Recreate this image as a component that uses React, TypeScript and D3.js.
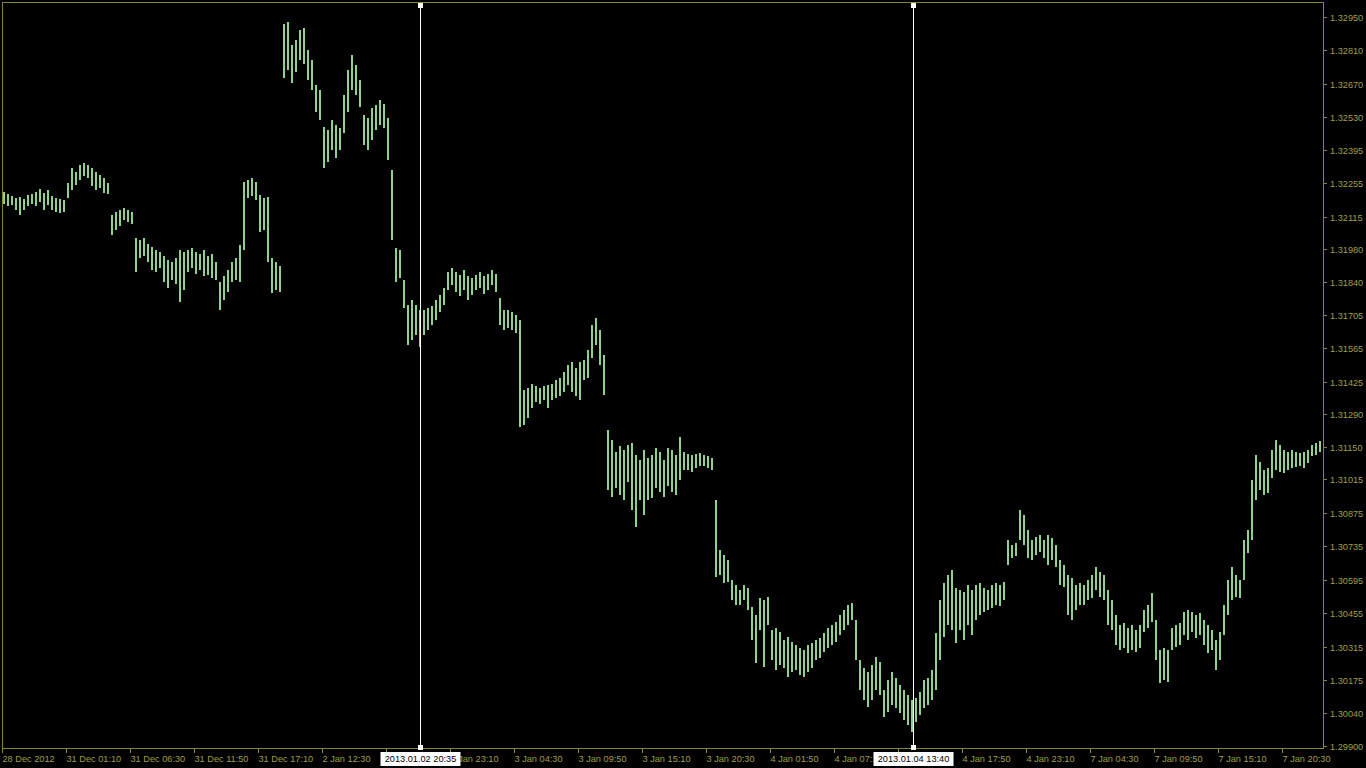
import React, { useEffect, useRef } from 'react';
import * as d3 from 'd3';

const WIDTH = 1366;
const HEIGHT = 768;
const FRAME = { left: 3, top: 3, right: 1324, bottom: 749 };

// each sample = 4 M5 bars (20 min), high / low
const dec28Highs = [1.32218, 1.32209, 1.32201, 1.32192, 1.32197, 1.32188, 1.32205, 1.32209, 1.32218, 1.32230, 1.32213, 1.32226, 1.32201, 1.32192, 1.32188, 1.32184, 1.32255, 1.32318, 1.32301, 1.32331, 1.32339, 1.32331, 1.32318, 1.32301, 1.32289, 1.32276, 1.32255, 1.32121, 1.32134, 1.32142, 1.32151, 1.32142, 1.32134, 1.32025, 1.32017, 1.32025, 1.32000, 1.31988, 1.31975, 1.31967, 1.31950, 1.31933, 1.31925, 1.31941, 1.31975, 1.31967, 1.31975, 1.31983, 1.31967, 1.31958, 1.31975, 1.31950, 1.31958, 1.31925, 1.31841, 1.31866, 1.31891, 1.31925, 1.31941, 1.31996, 1.32260, 1.32268, 1.32276, 1.32260, 1.32205, 1.32192, 1.32197, 1.31941, 1.31925, 1.31908];
const dec28Lows = [1.32167, 1.32159, 1.32163, 1.32142, 1.32121, 1.32142, 1.32159, 1.32167, 1.32159, 1.32176, 1.32142, 1.32163, 1.32142, 1.32134, 1.32130, 1.32134, 1.32192, 1.32226, 1.32247, 1.32268, 1.32285, 1.32276, 1.32243, 1.32226, 1.32235, 1.32213, 1.32209, 1.32038, 1.32059, 1.32075, 1.32101, 1.32092, 1.32084, 1.31883, 1.31941, 1.31950, 1.31925, 1.31891, 1.31883, 1.31900, 1.31841, 1.31816, 1.31849, 1.31832, 1.31757, 1.31808, 1.31883, 1.31900, 1.31874, 1.31891, 1.31866, 1.31870, 1.31858, 1.31849, 1.31724, 1.31766, 1.31799, 1.31841, 1.31849, 1.31841, 1.31975, 1.32192, 1.32201, 1.32184, 1.32050, 1.32059, 1.31925, 1.31795, 1.31808, 1.31799];

const jan2Highs = [1.32921, 1.32929, 1.32833, 1.32854, 1.32895, 1.32904, 1.32812, 1.32770, 1.32665, 1.32644, 1.32490, 1.32477, 1.32519, 1.32498, 1.32485, 1.32623, 1.32728, 1.32791, 1.32749, 1.32686, 1.32540, 1.32527, 1.32569, 1.32582, 1.32603, 1.32586, 1.32527, 1.32310, 1.31983, 1.31975, 1.31849, 1.31745, 1.31766, 1.31745, 1.31724, 1.31724, 1.31732, 1.31741, 1.31766, 1.31787, 1.31816, 1.31883, 1.31900, 1.31883, 1.31870, 1.31891, 1.31866, 1.31858, 1.31870, 1.31883, 1.31866, 1.31874, 1.31891, 1.31874, 1.31774, 1.31724, 1.31724, 1.31716, 1.31703];
const jan2Lows = [1.32695, 1.32728, 1.32674, 1.32720, 1.32770, 1.32753, 1.32686, 1.32644, 1.32552, 1.32519, 1.32318, 1.32343, 1.32393, 1.32360, 1.32393, 1.32465, 1.32552, 1.32644, 1.32623, 1.32573, 1.32414, 1.32393, 1.32435, 1.32477, 1.32498, 1.32485, 1.32352, 1.32017, 1.31841, 1.31858, 1.31732, 1.31578, 1.31598, 1.31619, 1.31569, 1.31619, 1.31640, 1.31661, 1.31682, 1.31715, 1.31745, 1.31808, 1.31829, 1.31799, 1.31783, 1.31808, 1.31766, 1.31787, 1.31808, 1.31816, 1.31791, 1.31808, 1.31829, 1.31799, 1.31661, 1.31640, 1.31649, 1.31640, 1.31628];

const jan3Highs = [1.31682, 1.31389, 1.31398, 1.31414, 1.31406, 1.31398, 1.31406, 1.31410, 1.31414, 1.31431, 1.31440, 1.31465, 1.31494, 1.31506, 1.31481, 1.31506, 1.31515, 1.31557, 1.31661, 1.31691, 1.31640, 1.31536, 1.31222, 1.31180, 1.31130, 1.31155, 1.31138, 1.31159, 1.31168, 1.31117, 1.31096, 1.31138, 1.31105, 1.31117, 1.31147, 1.31130, 1.31096, 1.31147, 1.31138, 1.31117, 1.31193, 1.31130, 1.31121, 1.31117, 1.31121, 1.31126, 1.31117, 1.31113, 1.31105, 1.30929, 1.30720, 1.30699, 1.30678, 1.30594, 1.30573, 1.30552, 1.30573, 1.30561, 1.30481, 1.30448, 1.30519, 1.30511, 1.30523, 1.30385, 1.30394, 1.30377, 1.30343, 1.30356];
const jan3Lows = [1.31235, 1.31243, 1.31272, 1.31314, 1.31339, 1.31331, 1.31347, 1.31314, 1.31347, 1.31356, 1.31364, 1.31381, 1.31410, 1.31381, 1.31364, 1.31347, 1.31431, 1.31440, 1.31523, 1.31578, 1.31494, 1.31368, 1.30971, 1.30942, 1.30979, 1.30950, 1.30929, 1.31004, 1.30887, 1.30816, 1.30929, 1.30866, 1.30929, 1.30937, 1.30979, 1.30962, 1.30942, 1.30988, 1.30962, 1.30950, 1.31013, 1.31055, 1.31055, 1.31046, 1.31063, 1.31071, 1.31071, 1.31063, 1.31055, 1.30607, 1.30615, 1.30581, 1.30586, 1.30511, 1.30490, 1.30490, 1.30511, 1.30469, 1.30343, 1.30247, 1.30385, 1.30230, 1.30406, 1.30259, 1.30218, 1.30239, 1.30226, 1.30188];

const jan4Highs = [1.30335, 1.30322, 1.30310, 1.30301, 1.30322, 1.30331, 1.30343, 1.30352, 1.30373, 1.30394, 1.30406, 1.30419, 1.30448, 1.30469, 1.30490, 1.30498, 1.30427, 1.30259, 1.30226, 1.30209, 1.30239, 1.30272, 1.30251, 1.30134, 1.30176, 1.30209, 1.30184, 1.30155, 1.30134, 1.30113, 1.30092, 1.30100, 1.30126, 1.30176, 1.30184, 1.30218, 1.30373, 1.30511, 1.30582, 1.30615, 1.30636, 1.30561, 1.30552, 1.30544, 1.30573, 1.30552, 1.30573, 1.30582, 1.30561, 1.30552, 1.30573, 1.30582, 1.30573, 1.30586, 1.30762, 1.30741, 1.30749, 1.30887, 1.30866, 1.30803, 1.30762, 1.30774, 1.30783, 1.30762, 1.30783, 1.30770, 1.30741, 1.30678, 1.30657, 1.30615];
const jan4Lows = [1.30209, 1.30218, 1.30197, 1.30188, 1.30209, 1.30226, 1.30259, 1.30268, 1.30293, 1.30310, 1.30322, 1.30335, 1.30364, 1.30385, 1.30406, 1.30427, 1.30259, 1.30134, 1.30092, 1.30063, 1.30092, 1.30134, 1.30113, 1.30021, 1.30042, 1.30071, 1.30059, 1.30038, 1.30008, 1.29987, 1.29958, 1.30000, 1.30029, 1.30059, 1.30071, 1.30092, 1.30134, 1.30259, 1.30356, 1.30406, 1.30385, 1.30331, 1.30385, 1.30343, 1.30406, 1.30364, 1.30427, 1.30448, 1.30461, 1.30469, 1.30477, 1.30490, 1.30486, 1.30511, 1.30657, 1.30686, 1.30695, 1.30762, 1.30741, 1.30686, 1.30678, 1.30699, 1.30712, 1.30686, 1.30657, 1.30678, 1.30649, 1.30573, 1.30565, 1.30448];

const jan7Highs = [1.30603, 1.30573, 1.30582, 1.30573, 1.30594, 1.30615, 1.30649, 1.30628, 1.30615, 1.30552, 1.30511, 1.30448, 1.30406, 1.30414, 1.30394, 1.30406, 1.30385, 1.30406, 1.30469, 1.30490, 1.30540, 1.30427, 1.30301, 1.30310, 1.30301, 1.30394, 1.30406, 1.30414, 1.30461, 1.30469, 1.30461, 1.30448, 1.30456, 1.30427, 1.30406, 1.30385, 1.30343, 1.30377, 1.30490, 1.30594, 1.30649, 1.30615, 1.30594, 1.30762, 1.30803, 1.31013, 1.31117, 1.31088, 1.31055, 1.31063, 1.31138, 1.31180, 1.31159, 1.31138, 1.31130, 1.31138, 1.31130, 1.31126, 1.31130, 1.31138, 1.31159, 1.31168, 1.31176];
const jan7Lows = [1.30427, 1.30469, 1.30490, 1.30490, 1.30511, 1.30519, 1.30552, 1.30523, 1.30511, 1.30406, 1.30385, 1.30322, 1.30301, 1.30310, 1.30289, 1.30301, 1.30293, 1.30310, 1.30377, 1.30394, 1.30419, 1.30259, 1.30163, 1.30176, 1.30167, 1.30301, 1.30314, 1.30322, 1.30364, 1.30343, 1.30377, 1.30352, 1.30364, 1.30322, 1.30289, 1.30301, 1.30218, 1.30259, 1.30364, 1.30448, 1.30511, 1.30523, 1.30519, 1.30594, 1.30707, 1.30762, 1.30929, 1.30971, 1.30950, 1.30958, 1.31021, 1.31055, 1.31046, 1.31042, 1.31055, 1.31063, 1.31067, 1.31071, 1.31063, 1.31084, 1.31113, 1.31117, 1.31130];

const priceLabels = ['1.32950', '1.32810', '1.32670', '1.32530', '1.32395', '1.32255', '1.32115', '1.31980', '1.31840', '1.31705', '1.31565', '1.31425', '1.31290', '1.31150', '1.31015', '1.30875', '1.30735', '1.30595', '1.30455', '1.30315', '1.30175', '1.30040', '1.29900'];

const timeLabels = ['28 Dec 2012', '31 Dec 01:10', '31 Dec 06:30', '31 Dec 11:50', '31 Dec 17:10', '2 Jan 12:30', '2 Jan 17:50', '2 Jan 23:10', '3 Jan 04:30', '3 Jan 09:50', '3 Jan 15:10', '3 Jan 20:30', '4 Jan 01:50', '4 Jan 07:10', '4 Jan 12:30', '4 Jan 17:50', '4 Jan 23:10', '7 Jan 04:30', '7 Jan 09:50', '7 Jan 15:10', '7 Jan 20:30'];

const markerLabels = ['2013.01.02 20:35', '2013.01.04 13:40'];
const markerBars = [417, 910];

const BARS_PER_SAMPLE = 4;
const BARS_PER_TICK = 64;
const TOTAL_BARS = 1321;
const BOX_W = 80;

const FG = '#a09f48';
const FRAME_COLOR = '#86863c';
const BAR_COLOR = '#92d092';
const FONT = '"Liberation Sans", Arial, sans-serif';

const App: React.FC = () => {
  const svgRef = useRef<SVGSVGElement>(null);

  useEffect(() => {
    document.body.style.margin = '0';
    document.body.style.background = '#000';

    const svg = d3.select(svgRef.current);
    svg.selectAll('*').remove();

    const highs = [...dec28Highs, ...jan2Highs, ...jan3Highs, ...jan4Highs, ...jan7Highs];
    const lows = [...dec28Lows, ...jan2Lows, ...jan3Lows, ...jan4Lows, ...jan7Lows];
    const bars = highs.map((h, i) => ({ bar: 1 + i * BARS_PER_SAMPLE, high: h, low: lows[i] }));

    const xScale = d3.scaleLinear().domain([0, TOTAL_BARS]).range([FRAME.left, FRAME.right]);
    const yScale = d3.scaleLinear().domain([1.299, 1.3295]).range([746, 17]);

    svg.append('rect').attr('width', WIDTH).attr('height', HEIGHT).attr('fill', '#000');

    // Bars
    svg.append('g')
      .selectAll('line')
      .data(bars)
      .enter().append('line')
      .attr('x1', d => xScale(d.bar))
      .attr('x2', d => xScale(d.bar))
      .attr('y1', d => yScale(d.high))
      .attr('y2', d => yScale(d.low))
      .attr('stroke', BAR_COLOR)
      .attr('stroke-width', 2)
      .attr('shape-rendering', 'crispEdges');

    // Frame
    svg.append('rect')
      .attr('x', FRAME.left - 0.5)
      .attr('y', FRAME.top - 0.5)
      .attr('width', FRAME.right - FRAME.left)
      .attr('height', FRAME.bottom - FRAME.top)
      .attr('fill', 'none')
      .attr('stroke', FRAME_COLOR)
      .attr('stroke-width', 1);

    // Price axis (right)
    const py = svg.append('g');
    priceLabels.forEach(l => {
      const y = Math.round(yScale(+l)) + 0.5;
      py.append('line')
        .attr('x1', FRAME.right).attr('x2', FRAME.right + 3)
        .attr('y1', y).attr('y2', y)
        .attr('stroke', FRAME_COLOR);
      py.append('text')
        .attr('x', FRAME.right + 6)
        .attr('y', y)
        .attr('dy', '0.35em')
        .style('font-family', FONT)
        .style('font-size', '9.2px')
        .attr('fill', FG)
        .text(l);
    });

    const markerX = markerBars.map(b => Math.round(xScale(b)) + 0.5);

    // Time axis (bottom)
    const tx = svg.append('g');
    timeLabels.forEach((l, i) => {
      const x = Math.round(xScale(i * BARS_PER_TICK)) - 0.5;
      tx.append('line')
        .attr('x1', x).attr('x2', x)
        .attr('y1', FRAME.bottom).attr('y2', FRAME.bottom + 4)
        .attr('stroke', FRAME_COLOR);
      const t = tx.append('text')
        .attr('x', x)
        .attr('y', FRAME.bottom + 13)
        .style('font-family', FONT)
        .style('font-size', '9.2px')
        .attr('fill', FG)
        .text(l);
      // a label completely hidden behind a marker box is not drawn
      const w = (t.node() as SVGTextElement).getComputedTextLength();
      const hidden = markerX.some(m => x >= m - BOX_W / 2 && x + w <= m + BOX_W / 2);
      if (hidden) t.remove();
    });

    // Vertical lines with time labels
    markerX.forEach((x, i) => {
      svg.append('line')
        .attr('x1', x).attr('x2', x)
        .attr('y1', FRAME.top + 2).attr('y2', FRAME.bottom - 1)
        .attr('stroke', '#fff')
        .attr('stroke-width', 1);
      svg.append('rect').attr('x', x - 2.5).attr('y', FRAME.top).attr('width', 5).attr('height', 5).attr('fill', '#fff');
      svg.append('rect').attr('x', x - 2.5).attr('y', FRAME.bottom - 4).attr('width', 5).attr('height', 5).attr('fill', '#fff');
      svg.append('rect')
        .attr('x', x - BOX_W / 2)
        .attr('y', FRAME.bottom + 3)
        .attr('width', BOX_W)
        .attr('height', 14)
        .attr('fill', '#fff');
      svg.append('text')
        .attr('x', x)
        .attr('y', FRAME.bottom + 13)
        .attr('text-anchor', 'middle')
        .style('font-family', FONT)
        .style('font-size', '9.2px')
        .attr('fill', '#000')
        .text(markerLabels[i]);
    });
  }, []);

  return (
    <div style={{ position: 'fixed', left: 0, top: 0, background: '#000' }}>
      <svg ref={svgRef} width={WIDTH} height={HEIGHT} style={{ display: 'block' }}></svg>
    </div>
  );
};

export default App;
